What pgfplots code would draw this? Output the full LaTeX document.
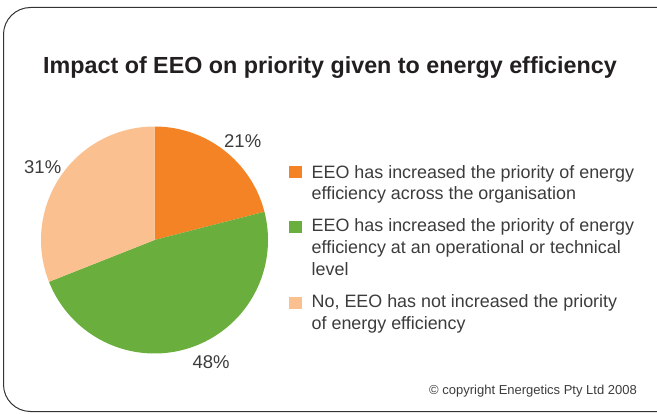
\documentclass[border=0pt]{standalone}
\usepackage{pgfplots}
\pgfplotsset{compat=1.18}
\usepackage{fontspec}
\setmainfont{Liberation Sans}
\definecolor{cA}{HTML}{F48326}
\definecolor{cB}{HTML}{6AAF3D}
\definecolor{cC}{HTML}{FAC08F}
\definecolor{txt}{HTML}{3C3C3C}
\definecolor{ttl}{HTML}{231F20}
\begin{document}
\begin{tikzpicture}[x=1pt,y=1pt]
\clip (0,0) rectangle (657,413);
\draw[line width=1pt, color=black!80, rounded corners=27pt] (700,405.5) -- (3.5,405.5) -- (3.5,1.5) -- (700,1.5);
\node[anchor=base, font=\bfseries\fontsize{23.3}{28}\selectfont, text=ttl, inner sep=0pt] at (330,339) {Impact of EEO on priority given to energy efficiency};
% data (percent)
\def\va{21}\def\vb{48}\def\vc{31}
\pgfmathsetmacro\aA{90}
\pgfmathsetmacro\aB{90-3.6*\va}
\pgfmathsetmacro\aC{\aB-3.6*\vb}
\pgfmathsetmacro\aD{\aC-3.6*\vc}
\begin{axis}[at={(154.5pt,173pt)}, anchor=center, hide axis, scale only axis,
  width=227pt, height=227pt, xmin=-1, xmax=1, ymin=-1, ymax=1, clip=false]
\addplot[fill=cA, draw=none, domain=\aB:\aA, samples=80, variable=\t] ({cos(\t)},{sin(\t)}) -- (axis cs:0,0) -- cycle;
\addplot[fill=cB, draw=none, domain=\aC:\aB, samples=120, variable=\t] ({cos(\t)},{sin(\t)}) -- (axis cs:0,0) -- cycle;
\addplot[fill=cC, draw=none, domain=\aD:\aC, samples=100, variable=\t] ({cos(\t)},{sin(\t)}) -- (axis cs:0,0) -- cycle;
\end{axis}
% percentage labels
\begin{scope}[every node/.style={inner sep=0pt, text=txt, font=\fontsize{18.5}{22}\selectfont}]
\node[anchor=base west] at (224,265.3) {21\%};
\node[anchor=base west] at (24,239.7) {31\%};
\node[anchor=base west] at (192.3,44.7) {48\%};
\end{scope}
% legend
\fill[cA] (288.5,234.5) rectangle (301.5,246.5);
\fill[cB] (288.5,179.5) rectangle (301.5,191.5);
\fill[cC] (288.5,103.5) rectangle (301.5,115.5);
\begin{scope}[every node/.style={inner sep=0pt, anchor=base west, text=txt, font=\fontsize{17.9}{22}\selectfont}]
\node at (311.5,234.7) {EEO has increased the priority of energy};
\node at (311.5,213) {efficiency across the organisation};
\node at (311.5,181.3) {EEO has increased the priority of energy};
\node at (311.5,159.3) {efficiency at an operational or technical};
\node at (311.5,137.3) {level};
\node at (311.5,105) {No, EEO has not increased the priority};
\node at (311.5,83) {of energy efficiency};
\end{scope}
\node[inner sep=0pt, anchor=base east, text=txt, font=\fontsize{13}{16}\selectfont] at (637,18) {© copyright Energetics Pty Ltd 2008};
\end{tikzpicture}
\end{document}
